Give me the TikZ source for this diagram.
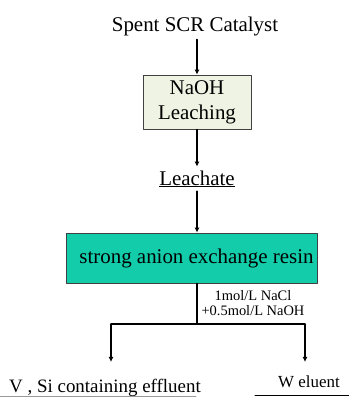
\documentclass[tikz,border=0pt]{standalone}
\usepackage{fontspec}
\setmainfont{Liberation Serif}
\usepackage{tikz}
\usetikzlibrary{arrows.meta}
\usetikzlibrary{calc}
\definecolor{leachfill}{RGB}{239,243,227}
\definecolor{resinfill}{RGB}{18,204,170}
\tikzstyle{every node}=[font=\fontsize{21}{24}\selectfont]
\tikzstyle{every path}=[line width=1.1pt,line cap=round,line join=round]
\tikzstyle{flow}=[-{Latex[length=5bp,width=5bp]}]
\tikzstyle{procbox}=[draw=black!75,line width=0.8pt,inner sep=0pt]

\begin{document}
\begin{tikzpicture}[x=1bp,y=1bp]
  \useasboundingbox (0,0) rectangle (349,397);
  % feed
  \node[anchor=base] (feed) at (195,366) {Spent SCR Catalyst};
  \node[procbox,fill=leachfill,minimum width=108bp,minimum height=54bp,
        align=center] (leach) at (197,295) {NaOH\\[1pt]Leaching};
  \node[anchor=base] (leachate) at (197,212) {\underline{Leachate}};
  \draw[flow] (leach.north |- feed.south) -- (leach.north);
  \draw[flow] (leach.south) -- (leach.south |- leachate.north);
  % resin column
  \node[procbox,fill=resinfill,minimum width=251bp,minimum height=50bp]
        (resin) at (191.5,139) {};
  \node (resintxt) at (196.5,139) {strong anion exchange resin};
  \draw[flow] (leachate.south) -- (leachate.south |- resin.north);
  \node[font=\fontsize{14.5}{15}\selectfont,align=center,anchor=north]
        (eluant) at (253,110) {1mol/L NaCl\\+0.5mol/L NaOH};
  % split
  \coordinate (split) at (197,73);
  \coordinate (lft) at (111,73);
  \coordinate (rgt) at (305,73);
  \draw (split |- resin.south) -- (split);
  \draw (lft) -- (rgt);
  \draw[flow] (lft) -- ++(0,-38);
  \draw[flow] (rgt) -- ++(0,-38);
  % products
  \node[anchor=base,font=\fontsize{19}{22}\selectfont] (effl) at (105,5)
        {V , Si containing effluent};
  \node[anchor=base,font=\fontsize{17}{20}\selectfont] (weluent) at (309,10)
        {W eluent};
  \draw[line width=0.8pt,black!40] (0,0.6) -- (196,0.6);
  \draw[line width=1pt] (255,2) -- (349,2);
\end{tikzpicture}
\end{document}
